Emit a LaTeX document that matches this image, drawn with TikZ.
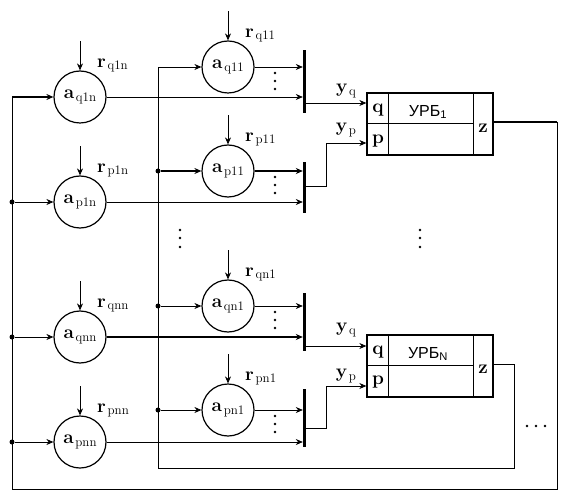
\documentclass[tikz,border=0pt]{standalone}
\usepackage{fontspec}
\newfontfamily\urbfont{Liberation Sans}
\usetikzlibrary{arrows.meta,calc}
\newcommand{\lbsub}[2]{{\fontsize{19}{20}\selectfont\textbf{#1}}\,\raisebox{-2.5pt}{\fontsize{13}{13}\selectfont #2}}
\begin{document}
\begin{tikzpicture}[x=1pt,y=-1pt,
  circ/.style={circle,draw,line width=1.2pt,minimum size=52pt,inner sep=0pt},
  ln/.style={line width=0.75pt},
  thk/.style={line width=1.4pt},
  arr/.style={-{Stealth[length=7pt,width=6pt]}},
  barnode/.style={fill,minimum width=3pt,inner sep=0pt},
  boxnode/.style={draw,line width=1.3pt,minimum width=126pt,minimum height=62pt,inner sep=0pt},
  lbl/.style={font=\fontsize{19}{20}\selectfont,inner sep=0pt},
  urb/.style={font=\urbfont\fontsize{16}{18}\selectfont,inner sep=0pt},
  jdot/.style={circle,fill,inner sep=0pt,minimum size=5pt},
  sdot/.style={circle,fill,inner sep=0pt,minimum size=2.6pt},
]
\useasboundingbox (0,0) rectangle (569,502);

% left circles
\node[circ] (q1n) at (80,97)  {\lbsub{a}{q1n}};
\node[circ] (p1n) at (80,202) {\lbsub{a}{p1n}};
\node[circ] (qnn) at (80,337) {\lbsub{a}{qnn}};
\node[circ] (pnn) at (80,442) {\lbsub{a}{pnn}};
% middle circles
\node[circ] (q11) at (228,67)  {\lbsub{a}{q11}};
\node[circ] (p11) at (228,171) {\lbsub{a}{p11}};
\node[circ] (qn1) at (228,306) {\lbsub{a}{qn1}};
\node[circ] (pn1) at (228,410) {\lbsub{a}{pn1}};

% r inputs
\foreach \c/\s in {q1n/q1n,p1n/p1n,qnn/qnn,pnn/pnn,q11/q11,p11/p11,qn1/qn1,pn1/pn1}{
  \coordinate (r\c) at ($(\c.north)+(0,-29)$);
  \draw[ln,arr] (r\c) -- (\c.north);
  \node[inner sep=0pt,anchor=base west] (rl\c) at ($(\c.north)+(17,-3)$) {\lbsub{r}{\s}};
}

% bars
\node[barnode,minimum height=63pt] (B1) at (304.5,81.5) {};
\node[barnode,minimum height=51pt] (B2) at (304.5,187.5) {};
\node[barnode,minimum height=58pt] (B3) at (304.5,322) {};
\node[barnode,minimum height=58pt] (B4) at (304.5,418) {};

% boxes
\node[boxnode] (U1) at (430,124) {};
\node[boxnode] (UN) at (430,366) {};
\foreach \b in {U1,UN}{
  \draw[ln] ($(\b.north west)+(22,0)$) -- ($(\b.south west)+(22,0)$);
  \draw[ln] ($(\b.north east)+(-20,0)$) -- ($(\b.south east)+(-20,0)$);
  \draw[ln] ($(\b.west)+(0,-0.5)$) -- ($(\b.east)+(-20,-0.5)$);
}
\node[lbl] (q1) at (378,110) {\textbf{q}};
\node[lbl] (p1) at (378,141) {\textbf{p}};
\node[lbl] (z1l) at (483,128) {\textbf{z}};
\node[urb] (t1) at (428,112) {УРБ\textsubscript{1}};
\node[lbl] (qN) at (378,352) {\textbf{q}};
\node[lbl] (pN) at (378,382) {\textbf{p}};
\node[lbl] (zNl) at (483,369) {\textbf{z}};
\node[urb] (tN) at (428,354) {УРБ\textsubscript{N}};

% outputs of circles into bars
\draw[ln,arr] (q11) -- (q11 -| B1.west);
\draw[ln,arr] (q1n) -- (q1n -| B1.west);
\draw[thk,arr] (p11) -- (p11 -| B2.west);
\draw[ln,arr] (p1n) -- (p1n -| B2.west);
\draw[ln,arr] (qn1) -- (qn1 -| B3.west);
\draw[thk,arr] (qnn) -- (qnn -| B3.west);
\draw[ln,arr] (pn1) -- (pn1 -| B4.west);
\draw[ln,arr] (pnn) -- (pnn -| B4.west);

% bar outputs to boxes
\coordinate (o1) at (306,103);
\coordinate (o2) at (306,186);
\coordinate (o3) at (306,346);
\coordinate (o4) at (306,428);
\coordinate (k2) at (326,186);
\coordinate (k2t) at (326,143);
\coordinate (k4) at (326,428);
\coordinate (k4t) at (326,386);
\draw[ln,arr] (o1) -- (o1 -| U1.west);
\draw[ln,arr] (o2) -- (k2) -- (k2t) -- (k2t -| U1.west);
\draw[ln,arr] (o3) -- (o3 -| UN.west);
\draw[ln,arr] (o4) -- (k4) -- (k4t) -- (k4t -| UN.west);
\node[inner sep=0pt] (yq1) at (346,91) {\lbsub{y}{q}};
\node[inner sep=0pt] (yp1) at (346,130) {\lbsub{y}{p}};
\node[inner sep=0pt] (yqN) at (346,330) {\lbsub{y}{q}};
\node[inner sep=0pt] (ypN) at (346,376) {\lbsub{y}{p}};

% feedback loop from box 1
\coordinate (z1) at (493,122);
\coordinate (R1) at (557,122);
\coordinate (Rb) at (557,489);
\coordinate (Lb) at (12,489);
\coordinate (L1) at (12,97);
\draw[thk] (z1) -- (R1);
\draw[ln] (R1) -- (Rb) -- (Lb) -- (L1);
\draw[thk,arr] (L1) -- (q1n);
\node[jdot] (Lj2) at (12,202) {};
\node[jdot] (Lj3) at (12,337) {};
\node[jdot] (Lj4) at (12,442) {};
\draw[ln,arr] (Lj2) -- (p1n);
\draw[ln,arr] (Lj3) -- (qnn);
\draw[ln,arr] (Lj4) -- (pnn);

% feedback loop from box N
\coordinate (zN) at (493,364);
\coordinate (RN) at (514,364);
\coordinate (RNb) at (514,468);
\coordinate (Mb) at (158,468);
\coordinate (M1) at (158,67);
\draw[ln,arr] (zN) -- (RN) -- (RNb) -- (Mb) -- (M1) -- (q11);
\node[jdot] (Mj2) at (158,171) {};
\node[jdot] (Mj3) at (158,306) {};
\node[jdot] (Mj4) at (158,410) {};
\draw[thk,arr] (Mj2) -- (p11);
\draw[ln,arr] (Mj3) -- (qn1);
\draw[ln,arr] (Mj4) -- (pn1);

% ellipses
\foreach \c in {q11,p11,qn1,pn1}{
  \foreach \d in {6,14,22}{
    \node[sdot] at ($(\c)+(47,\d)$) {};
  }
}
\foreach \d in {230,238,247}{
  \node[sdot] at (180,\d) {};
  \node[sdot] at (420,\d) {};
}
\foreach \d in {527,536,545}{
  \node[sdot] at (\d,426) {};
}
\end{tikzpicture}
\end{document}
